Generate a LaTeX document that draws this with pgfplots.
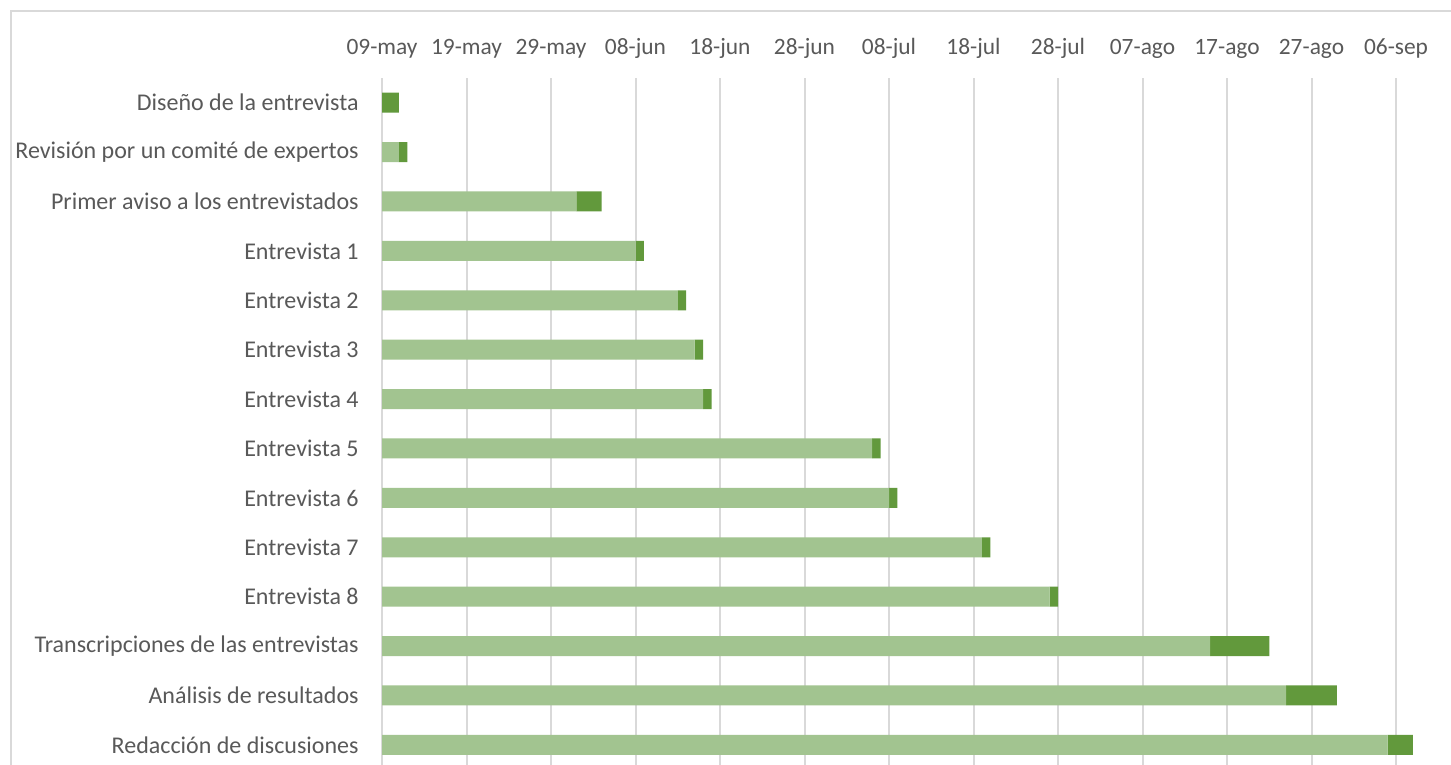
\documentclass[border=0pt]{standalone}
\usepackage{pgfplots}
\pgfplotsset{compat=1.18}
\usepackage{fontspec}
\setmainfont{Carlito}
\definecolor{txt}{HTML}{595959}
\definecolor{gridc}{HTML}{D9D9D9}
\definecolor{lg}{HTML}{A2C490}
\definecolor{dg}{HTML}{62993C}
\begin{document}
\begin{tikzpicture}[x=1pt,y=1pt]
\useasboundingbox (0,0) rectangle (725.5,382.5);
\clip (0,0) rectangle (725.5,382.5);
\fill[white] (0,0) rectangle (725.5,382.5);
\draw[gridc, line width=0.8pt] (5.5,377) rectangle (800,-50);
\begin{axis}[
  at={(191pt,-2.3pt)}, anchor=south west,
  scale only axis, width=540.8pt, height=345.8pt,
  xmin=0, xmax=128, ymin=-0.5, ymax=13.5,
  xbar stacked, bar width=10pt,
  axis line style={draw=none},
  major tick length=0pt,
  xmajorgrids, grid style={gridc, line width=1pt},
  xtick={0,10,...,120},
  xticklabels={09-may,19-may,29-may,08-jun,18-jun,28-jun,08-jul,18-jul,28-jul,07-ago,17-ago,27-ago,06-sep},
  xticklabel pos=top,
  xticklabel style={anchor=base, inner sep=0pt, yshift=11.5pt, text=txt, font=\fontsize{11.7}{14}\selectfont},
  ytick={0,...,13},
  yticklabels={Redacción de discusiones,Análisis de resultados,Transcripciones de las entrevistas,Entrevista 8,Entrevista 7,Entrevista 6,Entrevista 5,Entrevista 4,Entrevista 3,Entrevista 2,Entrevista 1,Primer aviso a los entrevistados,Revisión por un comité de expertos,Diseño de la entrevista},
  yticklabel style={anchor=east, inner sep=0pt, xshift=-11.5pt, text=txt, font=\fontsize{12}{14}\selectfont},
  clip=false,
]
\addplot[fill=lg, draw=none] coordinates {
(119,0) (107,1) (98,2) (79,3) (71,4) (60,5) (58,6) (38,7) (37,8) (35,9) (30,10) (23,11) (2,12) (0,13)};
\addplot[fill=dg, draw=none] coordinates {
(3,0) (6,1) (7,2) (1,3) (1,4) (1,5) (1,6) (1,7) (1,8) (1,9) (1,10) (3,11) (1,12) (2,13)};
\end{axis}
\end{tikzpicture}
\end{document}
